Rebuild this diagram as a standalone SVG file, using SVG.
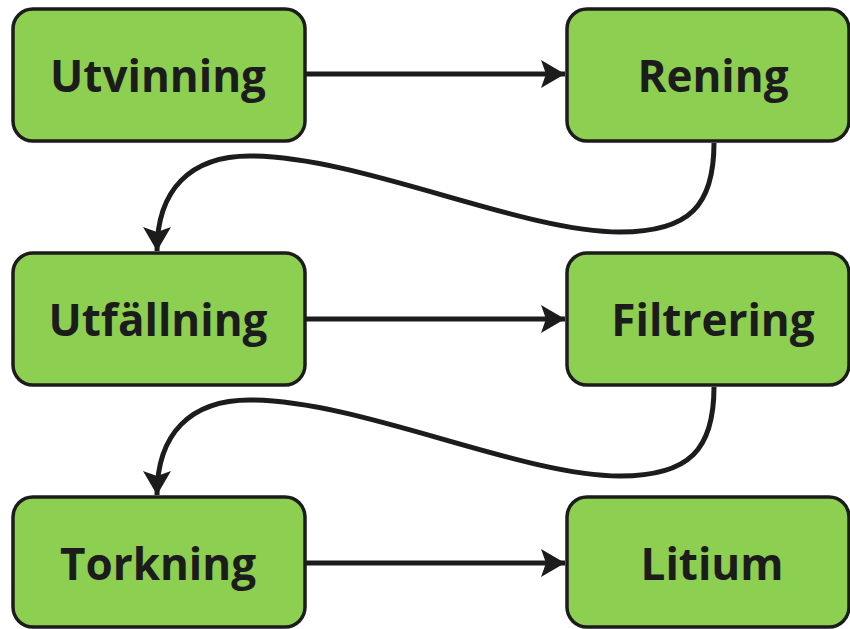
<svg xmlns="http://www.w3.org/2000/svg" width="850" height="629" viewBox="0 0 850 629">
<style>
.box{fill:#8dcf50;stroke:#1c1c1c;stroke-width:3.5}
.lbl{font-family:"Open Sans","DejaVu Sans",sans-serif;font-weight:700;font-size:44px;fill:#1c1c1c;text-anchor:middle}
.edge{fill:none;stroke:#1c1c1c;stroke-width:5}
</style>
<defs>
<marker id="ah" markerUnits="userSpaceOnUse" markerWidth="26" markerHeight="30" refX="24" refY="15" orient="auto">
<path d="M0,1 L24,15 L0,29 L5,15 Z" fill="#1c1c1c"/>
</marker>
</defs>
<rect width="850" height="629" fill="#ffffff"/>
<g id="connectors">
<path class="edge" d="M305,74 L565,74" marker-end="url(#ah)"/>
<path class="edge" d="M714,143 C714,205 690,232 620,232 C520,232 360,156 250,156 C190,156 157,190 157,251" marker-end="url(#ah)"/>
<path class="edge" d="M305,319 L565,319" marker-end="url(#ah)"/>
<path class="edge" d="M714,387 C714,449 690,476 620,476 C520,476 360,400 250,400 C190,400 157,434 157,495" marker-end="url(#ah)"/>
<path class="edge" d="M305,563 L565,563" marker-end="url(#ah)"/>
</g>
<g id="n1"><rect class="box" x="13" y="9" width="292" height="132" rx="20"/><text class="lbl" x="158" y="92">Utvinning</text></g>
<g id="n2"><rect class="box" x="567" y="9" width="282" height="132" rx="20"/><text class="lbl" x="713" y="92">Rening</text></g>
<g id="n3"><rect class="box" x="13" y="253" width="292" height="132" rx="20"/><text class="lbl" x="158" y="336">Utfällning</text></g>
<g id="n4"><rect class="box" x="567" y="253" width="282" height="132" rx="20"/><text class="lbl" x="713" y="336">Filtrering</text></g>
<g id="n5"><rect class="box" x="13" y="497" width="292" height="130" rx="20"/><text class="lbl" x="158" y="580">Torkning</text></g>
<g id="n6"><rect class="box" x="567" y="497" width="282" height="130" rx="20"/><text class="lbl" x="712" y="580">Litium</text></g>
</svg>
